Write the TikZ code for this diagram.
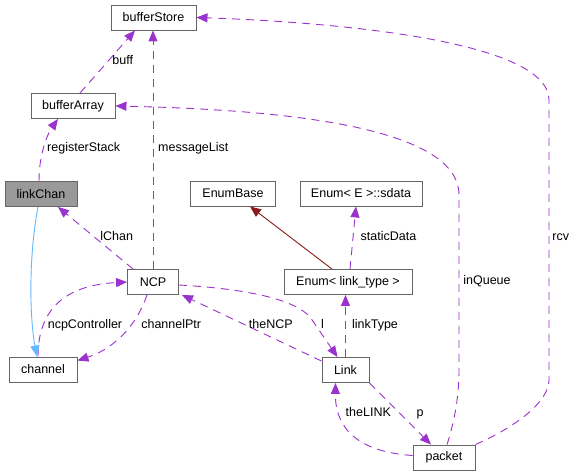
\documentclass[tikz,border=0pt]{standalone}
\usepackage{fontspec}
\setmainfont{Liberation Sans}
\usepackage{tikz}
\usetikzlibrary{arrows.meta,positioning}
\usepackage{xcolor}
\definecolor{boxgray}{RGB}{102,102,102}
\definecolor{fillgray}{RGB}{153,153,153}
\definecolor{usepurple}{RGB}{154,50,205}
\definecolor{inhblue}{RGB}{99,184,255}
\definecolor{inhred}{RGB}{139,26,26}
\tikzset{
  cbox/.style={draw=boxgray,fill=white,minimum height=25pt,inner sep=0pt,
    font=\fontsize{12.5}{15}\selectfont,line width=0.9pt},
  cboxg/.style={cbox,fill=fillgray},
  usage/.style={-{Triangle[length=11pt,width=9pt]},dash pattern=on 8pt off 6pt,
    line width=0.9pt,draw=usepurple},
  inherit/.style={-{Triangle[length=11pt,width=9pt]},line width=0.9pt,draw=inhred},
  inheritb/.style={inherit,draw=inhblue},
  elabel/.style={font=\fontsize{12.5}{15}\selectfont,inner sep=0pt,text height=9pt,text depth=2.6pt}
}
\begin{document}
\begin{tikzpicture}[x=1pt,y=-1pt]
  \useasboundingbox[fill=white] (0,0) rectangle (576,476);
  % classes
  \node[cbox,minimum width=85pt] (bufferStore) at (153.5,17.5) {bufferStore};
  \node[cbox,minimum width=84pt] (bufferArray) at (73,106) {bufferArray};
  \node[cboxg,minimum width=72pt] (linkChan) at (41,194) {linkChan};
  \node[cbox,minimum width=51pt] (NCP) at (153,282) {NCP};
  \node[cbox,minimum width=68pt] (channel) at (43,369.5) {channel};
  \node[cbox,minimum width=85pt] (EnumBase) at (233,193.5) {EnumBase};
  \node[cbox,minimum width=122pt] (sdata) at (361,193.5) {Enum< E >::sdata};
  \node[cbox,minimum width=128pt] (enumlt) at (348,282) {Enum< link\_type >};
  \node[cbox,minimum width=47pt] (Link) at (345.5,370) {Link};
  \node[cbox,minimum width=62pt] (packet) at (444,457.5) {packet};
  % members
  \draw[usage] ([xshift=7pt]bufferArray.north) -- ([xshift=-18.5pt]bufferStore.south)
    node[elabel] at (122.7,61) {buff};
  \draw[usage] (NCP.north) -- (NCP.north |- bufferStore.south)
    node[elabel] at (193.3,148) {messageList};
  \draw[usage] ([xshift=-2pt]linkChan.north) .. controls (39,150) and (50,130) .. ([xshift=-15pt]bufferArray.south)
    node[elabel] at (83.7,148) {registerStack};
  \draw[usage] ([xshift=3pt]packet.north) .. controls (455,420) and (459,395) .. (459,370) -- (459,195)
    .. controls (459,130) and (300,110) .. (bufferArray.east)
    node[elabel] at (487,281) {inQueue};
  \draw[usage] (packet.north east) .. controls (520,425) and (549,400) .. (549,380) -- (549,100)
    .. controls (549,40) and (330,22) .. (bufferStore.east)
    node[elabel] at (560.8,237) {rcv};
  \draw[usage] ([xshift=6pt]NCP.north west) -- ([xshift=17pt]linkChan.south)
    node[elabel] at (116.7,237) {lChan};
  \draw[usage] ([xshift=-5pt]channel.north) .. controls (38,305) and (70,285) .. (NCP.west)
    node[elabel] at (85,325) {ncpController};
  \draw[usage] ([xshift=-6pt]NCP.south) .. controls (135,330) and (110,350) .. ([yshift=-4pt]channel.north east)
    node[elabel] at (171.2,325) {channelPtr};
  \draw[inheritb] ([xshift=-3pt]linkChan.south) .. controls (28,260) and (30,320) .. ([xshift=-6pt]channel.north);
  \draw[inherit] ([xshift=-16pt]enumlt.north) -- ([xshift=17pt]EnumBase.south);
  \draw[usage] ([xshift=2pt]enumlt.north) -- ([xshift=-5pt]sdata.south)
    node[elabel] at (388.5,237) {staticData};
  \draw[usage] (Link.north) -- (Link.north |- enumlt.south)
    node[elabel] at (375,325) {linkType};
  \draw[usage] ([yshift=-3pt]NCP.east) .. controls (250,289) and (295,300) .. (310,317) -- ([xshift=-8pt]Link.north)
    node[elabel] at (322.5,325) {l};
  \draw[usage] ([yshift=-4pt]Link.north west) -- ([xshift=3pt]NCP.south east)
    node[elabel] at (270.8,325) {theNCP};
  \draw[usage] (Link.south east) -- ([xshift=-13pt]packet.north)
    node[elabel] at (420,413) {p};
  \draw[usage] ([yshift=2pt]packet.west) .. controls (360,452) and (335,430) .. ([xshift=-10pt]Link.south)
    node[elabel] at (368.3,413) {theLINK};
\end{tikzpicture}
\end{document}
